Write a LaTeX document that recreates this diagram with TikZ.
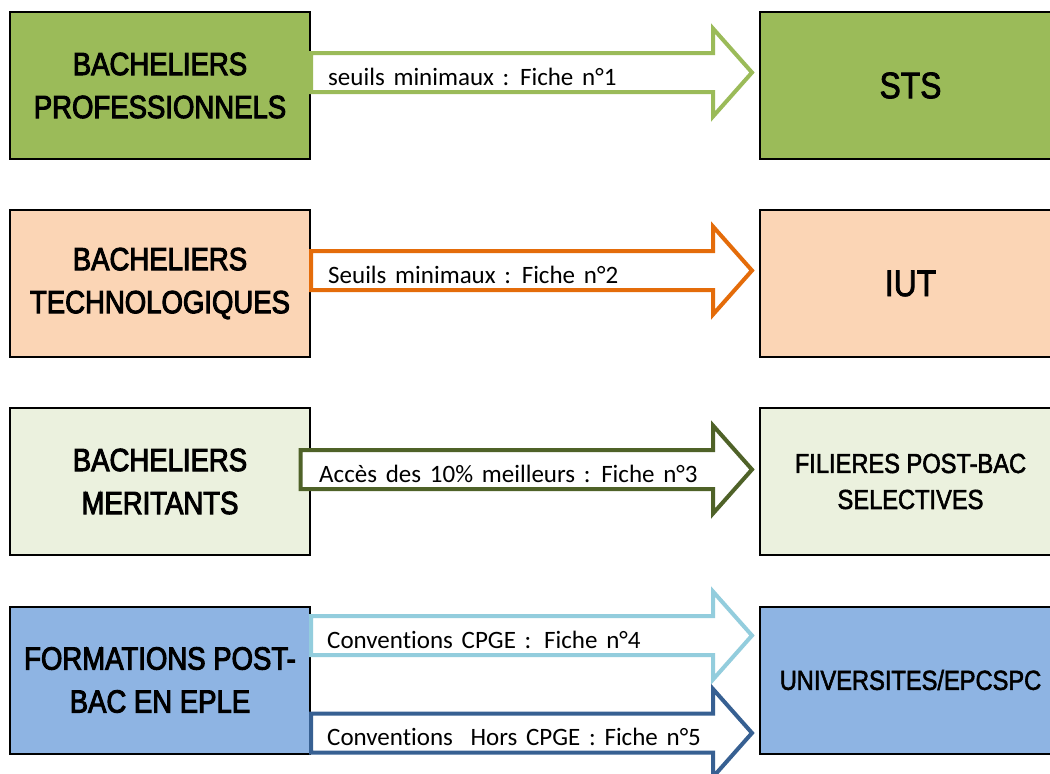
\documentclass[tikz,border=0pt]{standalone}
\usepackage{fontspec}
\newfontfamily\boxfont[FakeStretch=0.86,FakeBold=3]{Liberation Sans}
\newfontfamily\rboxfont[FakeStretch=0.86,FakeBold=2]{Liberation Sans}
\newfontfamily\arrfont[WordSpace=1.55,Ligatures=NoCommon]{Carlito}
\definecolor{gfill}{HTML}{9BBB59}
\definecolor{pfill}{HTML}{FBD5B5}
\definecolor{mfill}{HTML}{EBF1DE}
\definecolor{bfill}{HTML}{8EB4E3}
\definecolor{aone}{HTML}{9BBB59}
\definecolor{atwo}{HTML}{E46C0A}
\definecolor{athree}{HTML}{4F6228}
\definecolor{afour}{HTML}{93CDDD}
\definecolor{afive}{HTML}{376092}
\tikzset{
  lbox/.style={draw=black, line width=2pt, minimum width=300pt, minimum height=147pt,
    inner sep=0pt, align=center, font=\boxfont\fontsize{32}{43}\selectfont},
  rbox/.style={draw=black, line width=2pt, minimum width=301pt, minimum height=147pt,
    inner sep=0pt, align=center},
  arrowline/.style={line width=4pt, fill=white, line join=miter},
  arrtext/.style={font=\arrfont\fontsize{25}{28}\selectfont, inner sep=0pt, anchor=base west},
}
\newcommand\blockarrow[6]{%
  \draw[arrowline, draw=#3] (#1,#2-19.5) -- (713,#2-19.5) -- (713,#2-44) -- (752,#2)
    -- (713,#2+44) -- (713,#2+19.5) -- (#1,#2+19.5) -- cycle;
  \node[arrtext] (#4) at (#5,#2+12.5) {#6};
}
\begin{document}
\begin{tikzpicture}[x=1pt,y=-1pt]
\clip (0,0) rectangle (1050,774);
\fill[white] (0,0) rectangle (1050,774);
% left boxes
\node[lbox, fill=gfill] (L1) at (160,85.5) {BACHELIERS\\PROFESSIONNELS};
\node[lbox, fill=pfill] (L2) at (160,283.5) {BACHELIERS\\TECHNOLOGIQUES};
\node[lbox, fill=mfill] (L3) at (160,481.5) {BACHELIERS\\MERITANTS};
\node[lbox, fill=bfill] (L4) at (160,680) {FORMATIONS POST-\\BAC EN EPLE};
% right boxes
\node[rbox, fill=gfill, font=\rboxfont\fontsize{37}{40}\selectfont] (R1) at (910.5,85.5) {STS};
\node[rbox, fill=pfill, font=\rboxfont\fontsize{37}{40}\selectfont] (R2) at (910.5,283.5) {IUT};
\node[rbox, fill=mfill, font=\rboxfont\fontsize{27.5}{36}\selectfont] (R3) at (910.5,481.5) {FILIERES POST-BAC\\SELECTIVES};
\node[rbox, fill=bfill, font=\rboxfont\fontsize{27.5}{36}\selectfont] (R4) at (910.5,680) {UNIVERSITES/EPCSPC};
% block arrows
\blockarrow{311}{72.5}{aone}{T1}{328}{seuils minimaux : Fiche n°1}
\blockarrow{311}{270.5}{atwo}{T2}{328}{Seuils minimaux : Fiche n°2}
\blockarrow{300.5}{469.5}{athree}{T3}{319}{Accès des 10\% meilleurs : Fiche n°3}
\blockarrow{311}{635.5}{afour}{T4}{327}{Conventions CPGE :\hspace{4pt} Fiche n°4}
\blockarrow{311}{733}{afive}{T5}{327}{Conventions \ Hors CPGE : Fiche n°5}
\end{tikzpicture}
\end{document}
